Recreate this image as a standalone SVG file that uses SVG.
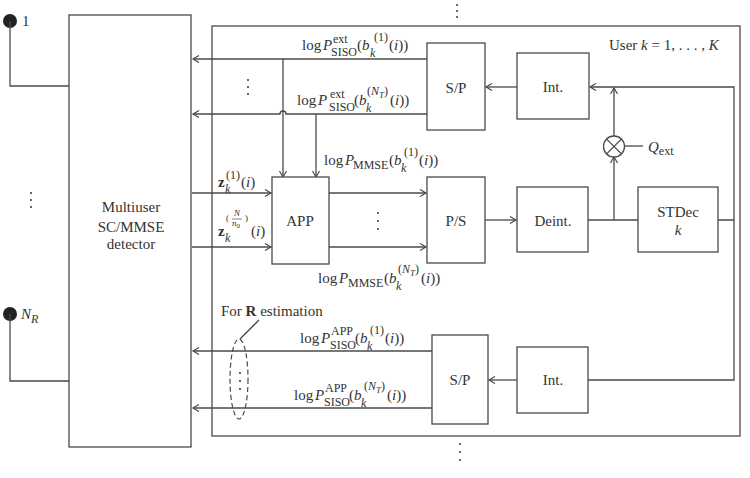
<svg xmlns="http://www.w3.org/2000/svg" width="750" height="478" viewBox="0 0 750 478">
<style>
.b{fill:#fff;stroke:#4a4a4a;stroke-width:1.3}
.l{fill:none;stroke:#4a4a4a;stroke-width:1.3}
.t{font-family:"Liberation Serif",serif;font-size:15px;fill:#333}
.c{text-anchor:middle}
.s{font-size:12px}
.ss{font-size:9px}
.i{font-style:italic}
.d{fill:#333}
</style>
<defs>
<marker id="a" markerUnits="userSpaceOnUse" markerWidth="10" markerHeight="10" refX="7" refY="4" orient="auto">
<path d="M1,0.5 L7,4 L1,7.5" fill="none" stroke="#4a4a4a" stroke-width="1.2"/>
</marker>
</defs>
<rect width="750" height="478" fill="#fff"/>

<g id="outer">
<rect class="b" x="212" y="26" width="528" height="410" fill="none"/>
<circle class="d" cx="457" cy="5" r="1"/><circle class="d" cx="457" cy="11" r="1"/><circle class="d" cx="457" cy="17" r="1"/>
<circle class="d" cx="460" cy="444" r="1"/><circle class="d" cx="460" cy="452" r="1"/><circle class="d" cx="460" cy="460" r="1"/>
<text class="t" x="609" y="50">User <tspan class="i">k</tspan> = 1, . . . , <tspan class="i">K</tspan></text>
</g>

<g id="antenna1">
<circle cx="10" cy="21" r="7" fill="#222"/>
<text class="t" x="22" y="26">1</text>
</g>
<g id="antennaNR">
<circle cx="10" cy="314" r="7" fill="#222"/>
<text class="t i" x="21" y="319">N<tspan class="s" y="323">R</tspan></text>
</g>
<g id="antdots">
<circle class="d" cx="31" cy="193" r="1"/><circle class="d" cx="31" cy="200" r="1"/><circle class="d" cx="31" cy="207" r="1"/>
</g>

<g id="detector">
<rect class="b" x="69" y="15" width="122" height="432"/>
<text class="t c" x="131" y="212">Multiuser</text>
<text class="t c" x="131" y="232">SC/MMSE</text>
<text class="t c" x="131" y="249">detector</text>
</g>

<g id="connectors">
<path class="l" d="M10,21 V86 H69"/>
<path class="l" d="M10,314 V381 H69"/>
<path class="l" d="M427,59 H193" marker-end="url(#a)"/>
<path class="l" d="M427,114 H286 A3,3 0 0 0 280,114 H193" marker-end="url(#a)"/>
<path class="l" d="M283,59 V177" marker-end="url(#a)"/>
<path class="l" d="M316,114 V177" marker-end="url(#a)"/>
<path class="l" d="M517,87 H486" marker-end="url(#a)"/>
<path class="l" d="M734,220 V87 H590" marker-end="url(#a)"/>
<path class="l" d="M718,220 H734 V380 H588"/>
<path class="l" d="M192,193 H271" marker-end="url(#a)"/>
<path class="l" d="M192,247 H271" marker-end="url(#a)"/>
<path class="l" d="M329,193 H426" marker-end="url(#a)"/>
<path class="l" d="M329,247 H426" marker-end="url(#a)"/>
<path class="l" d="M485,220 H516" marker-end="url(#a)"/>
<path class="l" d="M588,220 H638"/>
<path class="l" d="M614,220 V157" marker-end="url(#a)"/>
<path class="l" d="M614,136 V88" marker-end="url(#a)"/>
<path class="l" d="M624.5,146 H643"/>
<path class="l" d="M517,380 H489" marker-end="url(#a)"/>
<path class="l" d="M432,351 H193" marker-end="url(#a)"/>
<path class="l" d="M432,408 H193" marker-end="url(#a)"/>
</g>

<g id="dots1">
<circle class="d" cx="248" cy="80" r="1"/><circle class="d" cx="248" cy="87" r="1"/><circle class="d" cx="248" cy="94" r="1"/>
</g>
<g id="dots2">
<circle class="d" cx="378" cy="213" r="1"/><circle class="d" cx="378" cy="221" r="1"/><circle class="d" cx="378" cy="229" r="1"/>
</g>

<g id="sp1">
<rect class="b" x="427" y="43" width="58" height="87"/>
<text class="t c" x="456" y="93">S/P</text>
</g>
<g id="int1">
<rect class="b" x="517" y="53" width="72" height="66"/>
<text class="t c" x="553" y="92">Int.</text>
</g>
<g id="app">
<rect class="b" x="272" y="177" width="57" height="87"/>
<text class="t c" x="300" y="226">APP</text>
</g>
<g id="ps">
<rect class="b" x="427" y="177" width="58" height="86"/>
<text class="t c" x="456" y="226">P/S</text>
</g>
<g id="deint">
<rect class="b" x="517" y="187" width="71" height="65"/>
<text class="t c" x="553" y="226">Deint.</text>
</g>
<g id="stdec">
<rect class="b" x="638" y="187" width="80" height="65"/>
<text class="t c" x="678" y="217">STDec</text>
<text class="t c i" x="678" y="235">k</text>
</g>
<g id="mult">
<circle class="b" cx="614" cy="146.5" r="10.5"/>
<path class="l" d="M606.6,139.1 L621.4,153.9 M621.4,139.1 L606.6,153.9"/>
<text class="t" x="648" y="152"><tspan class="i">Q</tspan><tspan class="s" y="155">ext</tspan></text>
</g>
<g id="sp2">
<rect class="b" x="432" y="335" width="56" height="89"/>
<text class="t c" x="460" y="385">S/P</text>
</g>
<g id="int2">
<rect class="b" x="517" y="347" width="71" height="66"/>
<text class="t c" x="553" y="385">Int.</text>
</g>

<g id="rest">
<ellipse cx="239" cy="379" rx="9" ry="40" fill="none" stroke="#4a4a4a" stroke-width="1.2" stroke-dasharray="5,3"/>
<circle class="d" cx="240" cy="373" r="1"/><circle class="d" cx="240" cy="381" r="1"/><circle class="d" cx="240" cy="389" r="1"/>
<path class="l" d="M259,320 L240,339"/>
<text class="t" x="221" y="316">For <tspan font-weight="bold">R</tspan> estimation</text>
</g>

<g id="labels">
<text class="t" y="50"><tspan x="302">log</tspan><tspan x="323" class="i">P</tspan><tspan x="333" y="43" class="s">ext</tspan><tspan x="331" y="56" class="s">SISO</tspan><tspan x="357" y="50">(</tspan><tspan class="i">b</tspan><tspan x="374" y="41" class="s">(1)</tspan><tspan x="370" y="57" class="s i">k</tspan><tspan x="389" y="50">(<tspan class="i">i</tspan>))</tspan></text>

<text class="t" y="105"><tspan x="297">log</tspan><tspan x="318" class="i">P</tspan><tspan x="330" y="98" class="s">ext</tspan><tspan x="329" y="111" class="s">SISO</tspan><tspan x="354" y="105">(</tspan><tspan class="i">b</tspan><tspan x="367" y="95" class="s">(<tspan class="i">N</tspan><tspan class="ss i" y="98">T</tspan><tspan y="95">)</tspan></tspan><tspan x="366" y="112" class="s i">k</tspan><tspan x="390" y="105">(<tspan class="i">i</tspan>))</tspan></text>

<text class="t" y="165"><tspan x="324">log</tspan><tspan x="345" class="i">P</tspan><tspan x="353" y="169" class="s">MMSE</tspan><tspan x="389" y="165">(</tspan><tspan class="i">b</tspan><tspan x="404" y="156" class="s">(1)</tspan><tspan x="401" y="172" class="s i">k</tspan><tspan x="419" y="165">(<tspan class="i">i</tspan>))</tspan></text>

<text class="t" y="283"><tspan x="318">log</tspan><tspan x="339" class="i">P</tspan><tspan x="348" y="287" class="s">MMSE</tspan><tspan x="384" y="283">(</tspan><tspan class="i">b</tspan><tspan x="398" y="273" class="s">(<tspan class="i">N</tspan><tspan class="ss i" y="276">T</tspan><tspan y="273">)</tspan></tspan><tspan x="396" y="290" class="s i">k</tspan><tspan x="421" y="283">(<tspan class="i">i</tspan>))</tspan></text>

<text class="t" y="343"><tspan x="300">log</tspan><tspan x="321" class="i">P</tspan><tspan x="331" y="335" class="s">APP</tspan><tspan x="330" y="349" class="s">SISO</tspan><tspan x="355" y="343">(</tspan><tspan class="i">b</tspan><tspan x="370" y="334" class="s">(1)</tspan><tspan x="367" y="350" class="s i">k</tspan><tspan x="385" y="343">(<tspan class="i">i</tspan>))</tspan></text>

<text class="t" y="400"><tspan x="294">log</tspan><tspan x="315" class="i">P</tspan><tspan x="325" y="392" class="s">APP</tspan><tspan x="324" y="406" class="s">SISO</tspan><tspan x="349" y="400">(</tspan><tspan class="i">b</tspan><tspan x="364" y="390" class="s">(<tspan class="i">N</tspan><tspan class="ss i" y="393">T</tspan><tspan y="390">)</tspan></tspan><tspan x="361" y="407" class="s i">k</tspan><tspan x="387" y="400">(<tspan class="i">i</tspan>))</tspan></text>

<text class="t" y="187"><tspan x="218" font-weight="bold">z</tspan><tspan x="226" y="179" class="s">(1)</tspan><tspan x="225" y="193" class="s i">k</tspan><tspan x="241" y="187">(<tspan class="i">i</tspan>)</tspan></text>

<text class="t" y="236"><tspan x="218" font-weight="bold">z</tspan><tspan x="225" y="242" class="s i">k</tspan><tspan x="226" y="221" class="ss">(</tspan><tspan x="234" y="216" class="ss i">N</tspan><tspan x="232" y="226" class="ss i">n<tspan font-size="7px" font-style="normal" y="228">0</tspan></tspan><tspan x="245" y="221" class="ss">)</tspan><tspan x="251" y="236">(<tspan class="i">i</tspan>)</tspan></text>
<line x1="232" y1="219" x2="242" y2="219" stroke="#333" stroke-width="0.6"/>
</g>
</svg>
